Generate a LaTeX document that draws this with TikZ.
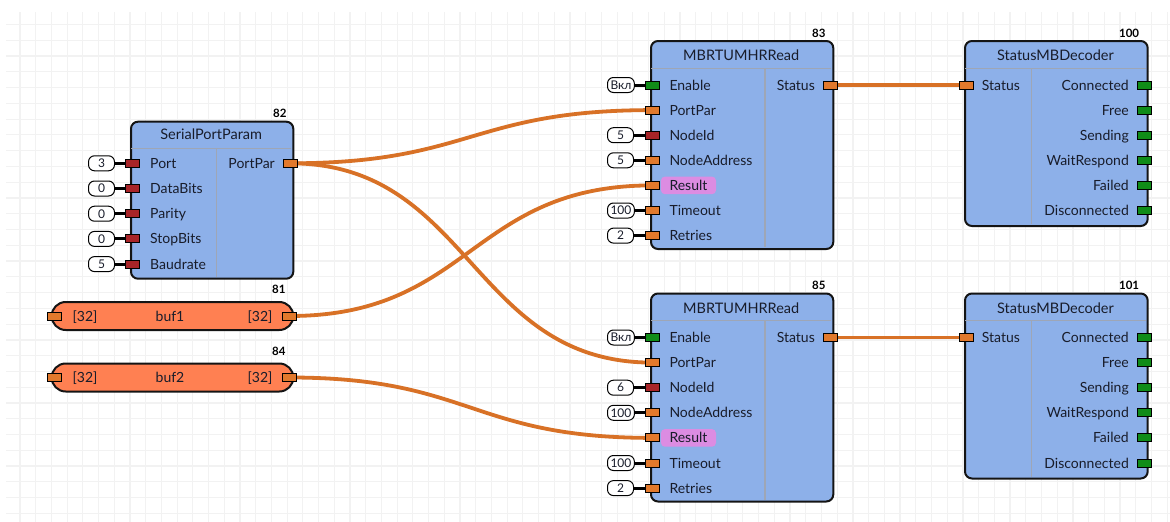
\documentclass[tikz,border=0pt]{standalone}
\usepackage{fontspec}
\setmainfont{Lato}
\usetikzlibrary{calc}

\definecolor{cBlock}{RGB}{141,176,233}
\definecolor{cSep}{RGB}{158,166,182}
\definecolor{cText}{RGB}{24,28,42}
\definecolor{cOrange}{RGB}{226,121,44}
\definecolor{cRed}{RGB}{168,36,40}
\definecolor{cGreen}{RGB}{16,140,24}
\definecolor{cWire}{RGB}{216,113,38}
\definecolor{cBuf}{RGB}{255,128,82}
\definecolor{cMark}{RGB}{220,140,226}
\definecolor{cGrid}{RGB}{242,242,242}

\pgfdeclarelayer{gridlayer}
\pgfdeclarelayer{wirelayer}
\pgfsetlayers{gridlayer,wirelayer,main}

\tikzset{
  blk/.style={draw=black!92, line width=2pt, fill=cBlock, rounded corners=7pt, inner sep=0pt},
  bufbox/.style={draw=black!92, line width=2pt, fill=cBuf, rounded corners=14pt, inner sep=0pt,
    minimum width=241.6pt, minimum height=28pt},
  sepline/.style={draw=cSep, line width=1.3pt},
  ttl/.style={font=\fontsize{14.5}{16}\selectfont, text=cText, inner sep=0pt, text height=10.4pt, text depth=0pt},
  lbl/.style={font=\fontsize{14}{16}\selectfont, text=cText, inner sep=0pt, text height=10pt, text depth=0pt},
  num/.style={font=\fontsize{11.5}{13}\bfseries\selectfont, text=black, inner sep=0pt,
    text height=8.2pt, text depth=0pt, anchor=east},
  pinbase/.style={draw=black, line width=1pt, minimum width=14pt, minimum height=8pt, inner sep=0pt},
  pinO/.style={pinbase, fill=cOrange},
  pinR/.style={pinbase, fill=cRed},
  pinG/.style={pinbase, fill=cGreen},
  constbox/.style={draw=black, line width=1pt, fill=white, rounded corners=6pt, minimum width=26pt,
    minimum height=15pt, inner xsep=3pt, inner ysep=0pt, font=\fontsize{12}{13}\selectfont,
    text=cText, anchor=west},
  tie/.style={draw=black, line width=3pt},
  resmark/.style={lbl, fill=cMark, rounded corners=4pt, inner xsep=8.6pt, inner ysep=0pt,
    minimum height=17.6pt, anchor=west},
  wire/.style={draw=cWire, line width=3.8pt, to path={let \p1=(\tikztostart), \p2=(\tikztotarget) in
    .. controls ({0.5*\x1+0.5*\x2},\y1) and ({0.5*\x1+0.5*\x2},\y2) .. (\tikztotarget)}},
  gridline/.style={draw=cGrid, line width=1.2pt},
}

% Modbus RTU read block: #1 name, #2 top edge, #3 number, #4 node id, #5 node address
\newcommand\mbread[5]{%
  \node[blk, anchor=north west, minimum width=182.3pt, minimum height=208pt] (#1) at (650,#2) {};
  \draw[sepline] (651,{#2+28.3}) -- (831.3,{#2+28.3});
  \draw[sepline] (765,{#2+28.3}) -- (765,{#2+207});
  \node[ttl] (#1-t) at (741.2,{#2+15.7}) {MBRTUMHRRead};
  \node[num] (#1-n) at (825.7,{#2-6.7}) {#3};
  \foreach \ps [count=\i from 0] in {pinG,pinO,pinR,pinO,pinO,pinO,pinO}
    \node[\ps] (#1-in\i) at (652.3,{#2+45+25.1*\i}) {};
  \foreach \lab [count=\i from 0] in {Enable,PortPar,NodeId,NodeAddress}
    \node[lbl, anchor=west] (#1-l\i) at (669.3,{#2+45+25.1*\i}) {\lab};
  \node[resmark] (#1-l4) at (660.7,{#2+45+25.1*4}) {Result};
  \node[lbl, anchor=west] (#1-l5) at (669.3,{#2+45+25.1*5}) {Timeout};
  \node[lbl, anchor=west] (#1-l6) at (669.3,{#2+45+25.1*6}) {Retries};
  \foreach \val/\i in {Вкл/0,#4/2,#5/3,100/5,2/6}{
    \node[constbox] (#1-c\i) at (607,{#2+45+25.1*\i}) {\val};
    \draw[tie] (#1-c\i) -- (#1-in\i);
  }
  \node[pinO] (#1-out) at (830,{#2+45}) {};
  \node[lbl, anchor=east] (#1-lo) at (815,{#2+45}) {Status};
}

% Status decoder block: #1 name, #2 top edge, #3 number
\newcommand\sdblock[3]{%
  \node[blk, anchor=north west, minimum width=182.7pt, minimum height=185pt] (#1) at (964,#2) {};
  \draw[sepline] (965,{#2+28.3}) -- (1145.7,{#2+28.3});
  \draw[sepline] (1031.7,{#2+28.3}) -- (1031.7,{#2+184});
  \node[ttl] (#1-t) at (1055.5,{#2+15.7}) {StatusMBDecoder};
  \node[num] (#1-n) at (1139.3,{#2-6.7}) {#3};
  \node[pinO] (#1-in) at (966.3,{#2+45}) {};
  \node[lbl, anchor=west] (#1-li) at (981.7,{#2+45}) {Status};
  \foreach \lab [count=\i from 0] in {Connected,Free,Sending,WaitRespond,Failed,Disconnected}{
    \node[pinG] (#1-out\i) at (1144.4,{#2+45+25.1*\i}) {};
    \node[lbl, anchor=east] (#1-l\i) at (1129,{#2+45+25.1*\i}) {\lab};
  }
}

\begin{document}
\begin{tikzpicture}[x=1pt,y=-1pt]
\useasboundingbox (0,0) rectangle (1170,522);

% background grid
\begin{pgfonlayer}{gridlayer}
  \fill[white] (0,0) rectangle (1170,522);
  \foreach \k in {0,...,73}
    \draw[gridline] ({20+15.715*\k},12) -- ({20+15.715*\k},522);
  \foreach \k in {0,...,31}
    \draw[gridline] (6,{24.5+15.77*\k}) -- (1170,{24.5+15.77*\k});
\end{pgfonlayer}

% serial port parameters
\node[blk, anchor=north west, minimum width=162.3pt, minimum height=157pt] (spp) at (130,120.7) {};
\draw[sepline] (131,148.3) -- (291.3,148.3);
\draw[sepline] (216.7,148.3) -- (216.7,276.7);
\node[ttl] (spp-t) at (211.2,134.3) {SerialPortParam};
\node[num] (spp-n) at (286.7,113.3) {82};
\foreach \lab/\val [count=\i from 0] in {Port/3,DataBits/0,Parity/0,StopBits/0,Baudrate/5}{
  \pgfmathsetmacro\yy{163.3+25.2*\i}
  \node[pinR] (spp-in\i) at (132.3,\yy) {};
  \node[lbl, anchor=west] (spp-l\i) at (150,\yy) {\lab};
  \node[constbox] (spp-c\i) at (88,\yy) {\val};
  \draw[tie] (spp-c\i) -- (spp-in\i);
}
\node[pinO] (spp-out) at (290,163.3) {};
\node[lbl, anchor=east] (spp-lo) at (275,163.3) {PortPar};

% buffers
\foreach \b/\y/\n in {buf1/316/81,buf2/377.5/84}{
  \node[bufbox, anchor=west] (\b) at (50.7,\y) {};
  \node[lbl] (\b-a) at (85,\y) {[32]};
  \node[lbl] (\b-name) at (170,\y) {\b};
  \node[lbl] (\b-b) at (260,\y) {[32]};
  \node[pinO] (\b-in) at (54.2,\y) {};
  \node[pinO] (\b-out) at (289.5,\y) {};
  \node[num] (\b-n) at (285.7,{\y-26.5}) {\n};
}

% read blocks and decoders
\mbread{mbA}{40}{83}{5}{5}
\mbread{mbB}{292.5}{85}{6}{100}
\sdblock{sdA}{40}{100}
\sdblock{sdB}{292.5}{101}

% connections
\begin{pgfonlayer}{wirelayer}
  \draw[wire] (spp-out.center) to (mbA-in1.center);
  \draw[wire] (spp-out.center) to (mbB-in1.center);
  \draw[wire] (buf1-out.center) to (mbA-in4.center);
  \draw[wire] (buf2-out.center) to (mbB-in4.center);
  \draw[wire] (mbA-out.center) to (sdA-in.center);
  \draw[wire] (mbB-out.center) to (sdB-in.center);
\end{pgfonlayer}
\end{tikzpicture}
\end{document}
